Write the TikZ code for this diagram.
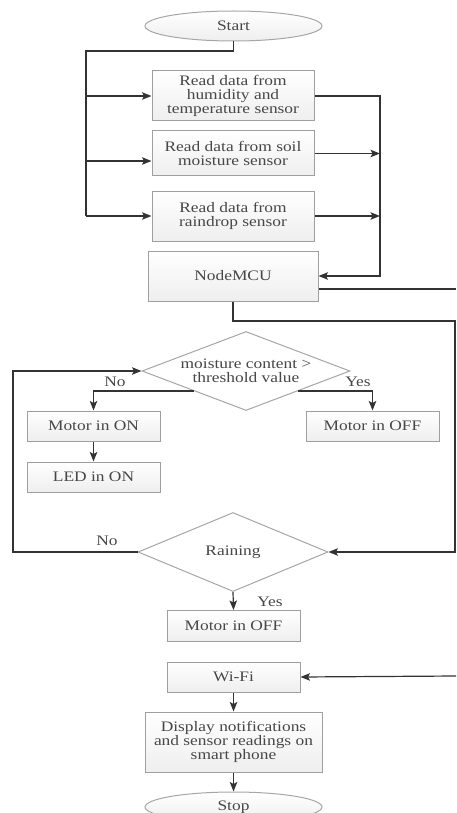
\documentclass[tikz,border=0pt]{standalone}
\usepackage{fontspec}
\setmainfont{Liberation Serif}[FakeStretch=1.2]
\usetikzlibrary{arrows.meta,shapes.geometric,calc}
\begin{document}
\begin{tikzpicture}[x=1pt,y=-1pt,
  txt/.style={font=\fontsize{14.5}{14}\selectfont, text=black!72, align=center, inner sep=0pt},
  box/.style={txt, draw=gray!75, line width=1pt, top color=white, bottom color=gray!13, rectangle},
  dec/.style={txt, diamond, aspect=2.5, draw=gray!70, line width=1pt, fill=white},
  term/.style={txt, ellipse, draw=gray!70, line width=1pt, top color=white, bottom color=gray!13},
  lbl/.style={font=\fontsize{14.5}{14}\selectfont, text=black!72, inner sep=0pt},
  conn/.style={draw=black!80, line width=1.2pt},
  arr/.style={conn, -{Stealth[length=9.5pt,width=7.5pt,inset=2pt]}}]
\useasboundingbox (0,0) rectangle (456,813);
\clip (0,0) rectangle (456,813);

\node[term, minimum width=177pt, minimum height=30pt] (start) at (233.5,26) {Start};
\node[box, minimum width=162pt, minimum height=50pt] (b1) at (233,96) {Read data from\\humidity and\\temperature sensor};
\node[box, minimum width=162pt, minimum height=45pt] (b2) at (233,153.5) {Read data from soil\\moisture sensor};
\node[box, minimum width=162pt, minimum height=50pt] (b3) at (233,216) {Read data from\\raindrop sensor};
\node[box, minimum width=170pt, minimum height=50pt] (mcu) at (233,276) {NodeMCU};
\node[dec, minimum width=208pt, minimum height=79pt] (d1) at (246,371) {moisture content >\\threshold value};
\node[box, minimum width=133pt, minimum height=30pt] (mon) at (93.5,426) {Motor in ON};
\node[box, minimum width=133pt, minimum height=30pt] (moff) at (372.5,426) {Motor in OFF};
\node[box, minimum width=133pt, minimum height=30pt] (led) at (93.5,477) {LED in ON};
\node[dec, minimum width=190pt, minimum height=79pt] (rain) at (233,552) {Raining};
\node[box, minimum width=133pt, minimum height=31pt] (moff2) at (233.5,626) {Motor in OFF};
\node[box, minimum width=133pt, minimum height=30pt] (wifi) at (233.5,677) {Wi-Fi};
\node[box, minimum width=177pt, minimum height=60pt] (disp) at (233.5,742) {Display notifications\\and sensor readings on\\smart phone};
\node[term, minimum width=177pt, minimum height=30pt] (stop) at (233.5,807) {Stop};

\node[lbl] (lno1) at (115,382) {No};
\node[lbl] (lyes1) at (358,382) {Yes};
\node[lbl] (lno2) at (107,541) {No};
\node[lbl] (lyes2) at (270,602) {Yes};

\coordinate (busL) at (86,51);
\coordinate (busR) at (380,96);
\coordinate (edge1) at (456,289);
\coordinate (edge2) at (456,676);
\coordinate (loopR) at (455,321);
\coordinate (loopL) at (13,552);

% left bus
\draw[conn] (start.south) |- (busL) -- (busL |- b3.west);
\draw[arr] (busL |- b1.west) -- (b1.west);
\draw[arr] (86,161) -- ([yshift=-7.5pt]b2.west);
\draw[arr] (busL |- b3.west) -- (b3.west);
% right bus
\draw[arr] (b1.east) -- (busR) |- (mcu.east);
\draw[arr] (b2.east) -- (busR |- b2.east);
\draw[arr] (b3.east) -- (busR |- b3.east);
% NodeMCU outputs
\draw[conn] ([yshift=-13pt]mcu.east) -- (edge1);
\draw[arr] (mcu.south) |- (loopR) |- (rain.east);
% decision 1
\draw[arr] ($(d1.west)!0.5!(d1.south)$) -| (mon.north);
\draw[arr] ($(d1.east)!0.5!(d1.south)$) -| (moff.north);
\draw[arr] (mon.south) -- (led.north);
% raining
\draw[arr] (rain.west) -- (loopL) |- (d1.west);
\draw[arr] (rain.south) -- (moff2.north);
% bottom
\draw[arr] (edge2) -- (wifi.east);
\draw[arr] (wifi.south) -- (disp.north);
\draw[arr] (disp.south) -- (stop.north);
\end{tikzpicture}
\end{document}
